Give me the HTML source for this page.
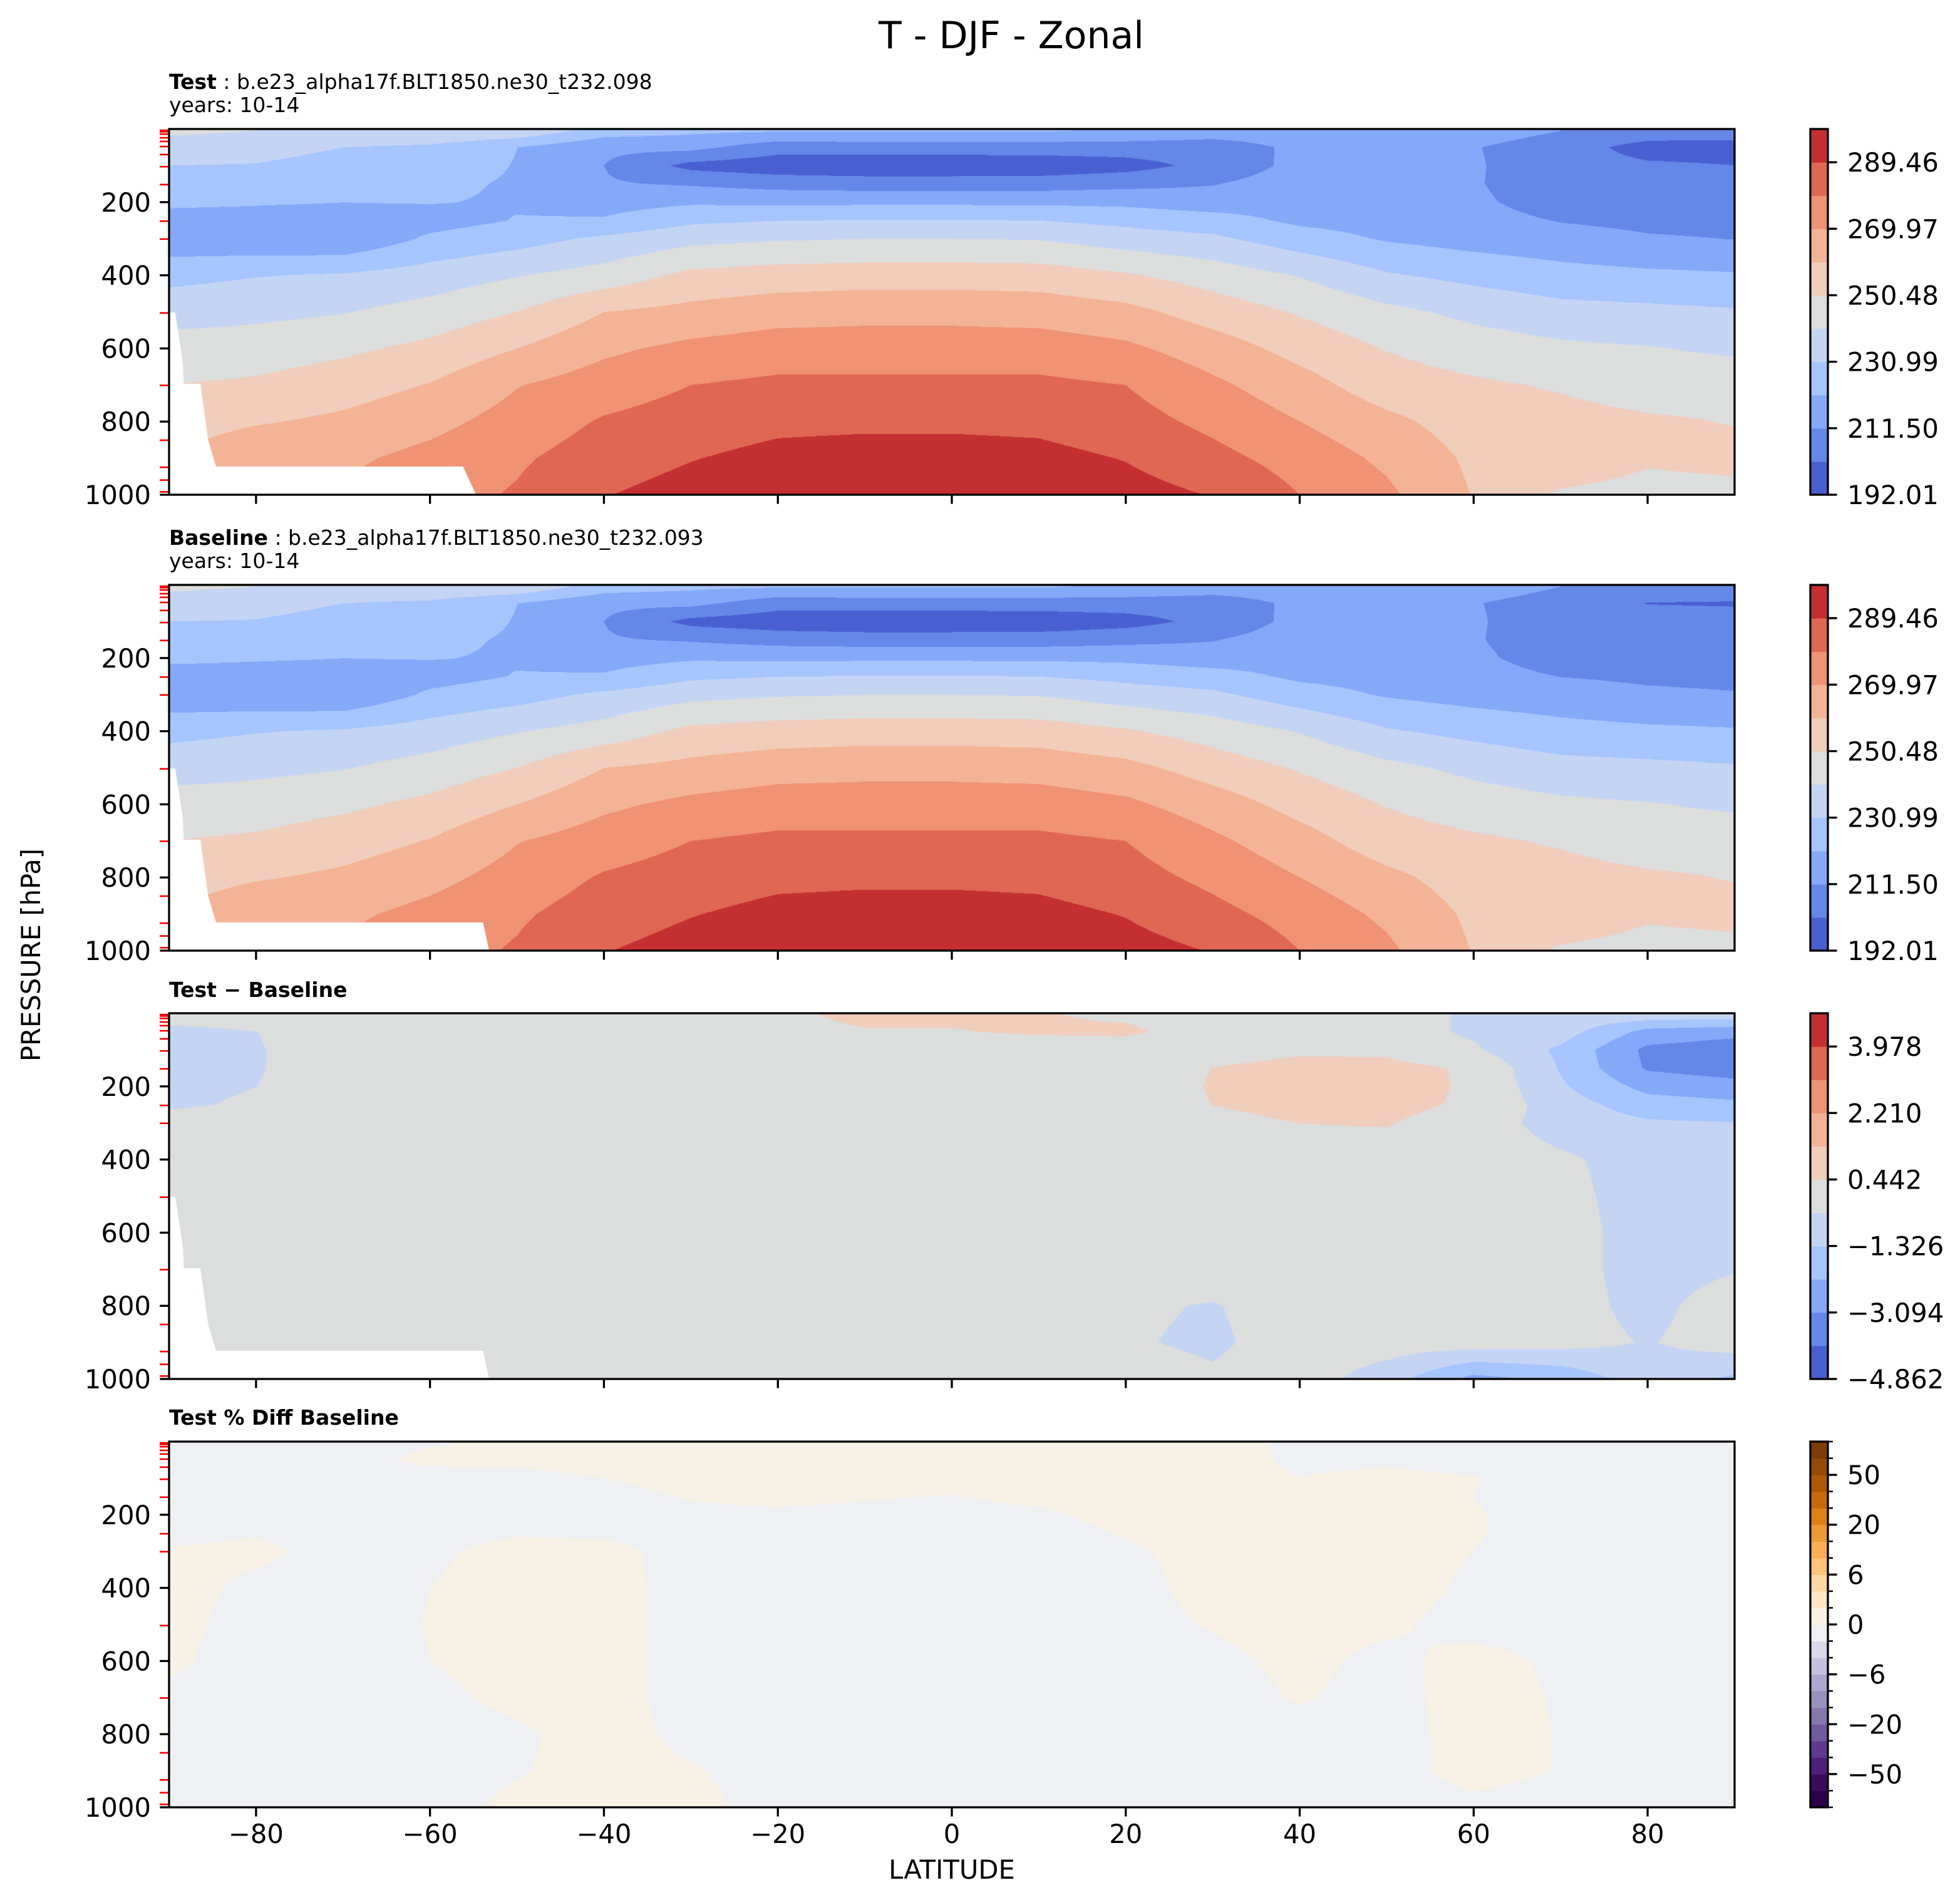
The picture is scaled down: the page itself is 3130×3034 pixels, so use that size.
<!DOCTYPE html>
<html>
<head>
<meta charset="utf-8">
<title>T - DJF - Zonal</title>
<style>
  html,body{margin:0;padding:0;background:#fff;}
  #fig{position:relative;width:3130px;height:3034px;background:#fff;overflow:hidden;font-family:"DejaVu Sans","Liberation Sans",sans-serif;}
  canvas{position:absolute;}
  svg{position:absolute;left:0;top:0;}
  svg text{font-family:"DejaVu Sans","Liberation Sans",sans-serif;fill:#000;}
</style>
</head>
<body>
<div id="fig">
  <canvas id="cv0" style="left:270px;top:206px;width:2500px;height:584px"></canvas>
  <canvas id="cv1" style="left:270px;top:934px;width:2500px;height:584px"></canvas>
  <canvas id="cv2" style="left:270px;top:1618px;width:2500px;height:584px"></canvas>
  <canvas id="cv3" style="left:270px;top:2302px;width:2500px;height:584px"></canvas>
  <svg id="ov" width="3130" height="3034" viewBox="0 0 3130 3034">
    <text x="1615" y="77" font-size="60" text-anchor="middle">T - DJF - Zonal</text>
    <text x="270" y="142" font-size="33"><tspan font-weight="bold">Test</tspan> : b.e23_alpha17f.BLT1850.ne30_t232.098</text>
    <text x="270" y="179" font-size="33">years: 10-14</text>
    <text x="270" y="870" font-size="33"><tspan font-weight="bold">Baseline</tspan> : b.e23_alpha17f.BLT1850.ne30_t232.093</text>
    <text x="270" y="907" font-size="33">years: 10-14</text>
    <text x="270" y="1592" font-size="33" font-weight="bold">Test − Baseline</text>
    <text x="270" y="2275" font-size="33" font-weight="bold">Test % Diff Baseline</text>
    <text transform="translate(64,1525) rotate(-90)" font-size="41.7" text-anchor="middle">PRESSURE [hPa]</text>
    <text x="1520" y="3000" font-size="41.7" text-anchor="middle">LATITUDE</text>
    <g id="axes"></g>
  </svg>
</div>
<script>
// ---------------- data ----------------
const LATS = [-90,-80,-70,-60,-50,-40,-30,-20,-10,0,10,20,30,40,50,60,70,80,90];
const PRES = [5,50,100,150,200,250,300,400,500,600,700,800,900,1000];

// Temperature [K], one row per latitude (LATS), columns = PRES
const T_TEST = [
 [242.7,235.9,231.0,226.1,223.2,217.4,214.4,228.1,236.8,244.6,250.5,255.4,260.2,263.1],
 [240.7,234.9,230.5,226.1,222.2,217.4,213.5,230.5,238.3,245.6,252.0,259.3,268.0,271.9],
 [240.7,231.0,227.1,224.2,221.3,217.4,212.5,232.0,240.2,248.5,255.8,262.2,268.0,271.9],
 [240.7,229.0,226.1,223.2,221.7,217.4,223.0,235.4,244.6,252.9,260.7,267.0,272.9,275.8],
 [238.8,221.3,220.8,220.3,220.3,221.7,227.1,240.2,250.5,260.2,269.5,273.9,278.3,280.7],
 [226.1,213.5,211.5,212.5,217.4,222.2,232.9,244.6,260.2,268.0,274.8,280.7,284.6,289.0],
 [223.2,214.4,198.8,210.5,219.8,229.0,237.8,252.9,263.1,272.4,279.7,284.1,289.0,293.4],
 [222.0,205.7,195.9,207.6,219.3,230.8,239.8,254.9,266.1,274.8,281.7,287.0,292.4,295.3],
 [222.0,206.6,194.9,206.6,219.3,231.5,240.7,255.8,267.0,274.8,281.7,287.5,293.4,296.3],
 [222.0,206.6,194.9,206.6,219.3,231.5,240.7,255.8,267.0,274.8,281.7,287.5,293.4,296.3],
 [222.0,206.6,195.4,206.6,219.3,231.0,240.2,255.4,266.1,274.8,281.7,287.0,292.4,295.3],
 [220.0,206.6,197.9,208.6,218.8,228.1,235.9,251.5,263.1,271.9,279.7,283.6,289.0,293.4],
 [216.4,206.6,204.7,211.0,216.4,225.1,232.9,246.1,255.8,265.1,271.9,277.3,282.6,289.0],
 [216.4,213.5,214.4,216.4,218.3,219.3,225.6,240.2,249.5,256.8,264.1,270.0,275.8,279.7],
 [216.4,212.5,213.5,214.4,215.4,217.4,220.3,232.0,243.2,250.0,254.9,262.7,268.0,271.9],
 [216.4,212.0,212.5,212.5,213.5,215.4,217.4,228.1,238.3,245.6,252.0,255.4,258.3,259.7],
 [211.5,206.6,205.7,204.7,206.6,211.0,215.4,224.7,234.4,242.7,249.5,253.9,257.8,249.0],
 [207.6,197.9,203.2,205.7,206.6,209.1,212.5,223.2,233.4,241.2,245.6,252.0,252.0,246.6],
 [206.6,197.9,201.8,204.7,206.1,208.6,211.3,222.2,232.0,239.3,245.6,250.0,253.4,247.6]
];
const T_BASE = [
 [242.7,235.9,231.0,226.1,223.2,217.4,214.4,228.1,236.8,244.6,250.5,255.4,260.2,263.1],
 [240.7,234.9,230.5,226.1,222.2,217.4,213.5,230.5,238.3,245.6,252.0,259.3,268.0,271.9],
 [240.7,231.0,227.1,224.2,221.3,217.4,212.5,232.0,240.2,248.5,255.8,262.2,268.0,271.9],
 [240.7,229.0,226.1,223.2,221.7,217.4,223.0,235.4,244.6,252.9,260.7,267.0,272.9,275.8],
 [238.8,221.3,220.8,220.3,220.3,221.7,227.1,240.2,250.5,260.2,269.5,273.9,278.3,280.7],
 [226.1,213.5,211.5,212.5,217.4,222.2,232.9,244.6,260.2,268.0,274.8,280.7,284.6,289.0],
 [223.2,214.4,198.8,210.5,219.8,229.0,237.8,252.9,263.1,272.4,279.7,284.1,289.0,293.4],
 [222.0,205.7,195.9,207.6,219.3,230.8,239.8,254.9,266.1,274.8,281.7,287.0,292.4,295.3],
 [222.0,206.6,194.9,206.6,219.3,231.5,240.7,255.8,267.0,274.8,281.7,287.5,293.4,296.3],
 [222.0,206.6,194.9,206.6,219.3,231.5,240.7,255.8,267.0,274.8,281.7,287.5,293.4,296.3],
 [222.0,206.6,195.4,206.6,219.3,231.0,240.2,255.4,266.1,274.8,281.7,287.0,292.4,295.3],
 [220.0,206.6,197.9,208.6,218.8,228.1,235.9,251.5,263.1,271.9,279.7,283.6,289.0,293.4],
 [216.4,206.6,204.7,211.0,216.4,225.1,232.9,246.1,255.8,265.1,271.9,277.3,282.6,289.0],
 [216.4,213.5,214.4,216.4,218.3,219.3,225.6,240.2,249.5,256.8,264.1,270.0,275.8,279.7],
 [216.4,212.5,213.5,214.4,215.4,217.4,220.3,232.0,243.2,250.0,254.9,262.7,268.0,271.9],
 [216.4,212.0,212.5,212.5,213.5,215.4,217.4,228.1,238.3,245.6,252.0,255.4,258.3,259.7],
 [211.5,207.5,206.5,205.2,207.0,211.3,215.6,224.7,234.4,242.7,249.5,253.9,257.8,249.0],
 [208.0,201.5,205.5,206.8,207.5,210.0,213.0,223.2,233.4,241.2,245.6,252.0,252.0,246.6],
 [207.5,201.0,205.0,206.5,207.5,209.5,212.0,222.2,232.0,239.3,245.6,250.0,253.4,247.6]
];
// Test - Baseline [K]
const T_DIFF = [
 [0,-0.7,-0.7,-0.7,-0.7,-0.6,0,0,0,0,0,0,0,0],
 [0,-0.45,-0.5,-0.5,-0.45,-0.3,0,0,0,0,0,0,0,0],
 [0,0,0,0,0,0,0,0,0,0,0,0,0,0],
 [0,0,0,0,0,0,0,0,0,0,0,0,0,0],
 [0,0,0,0,0,0,0,0,0,0,0,0,0,0],
 [0,0,0,0,0,0,0,0,0,0,0,0,0,0],
 [0,0,0,0,0,0,0,0,0,0,0,0,0,0],
 [0.3,0.2,0,0,0,0,0,0,0,0,0,0,0,0],
 [0.6,0.4,0,0,0,0,0,0,0,0,0,0,0,0],
 [0.6,0.4,0,0,0,0,0,0,0,0,0,0,0,0],
 [0.5,0.55,0,0,0,0,0,0,0,0,0,0,0,0],
 [0.3,0.6,0,0,0,0,0,0,0,0,0,-0.3,-0.35,0],
 [0,0,0.1,0.45,0.5,0.45,0.2,0,0,0,0,-0.5,-0.6,-0.3],
 [0,0,0.3,0.7,0.75,0.7,0.45,0,0,0,0,0,0,0],
 [0,0,0.3,0.65,0.7,0.7,0.5,0,0,0,0,0,0,-0.9],
 [-0.6,-0.6,-0.3,0.35,0.35,0.3,0,0,0,0,0,0,0,-2.5],
 [-0.7,-0.9,-1.5,-1.4,-1.2,-0.9,-0.8,-0.3,-0.2,-0.1,-0.1,-0.1,-0.1,-2.0],
 [-0.8,-2.5,-3.3,-3.2,-2.5,-1.8,-1.2,-0.8,-0.8,-0.8,-0.8,-0.7,-0.5,-0.8],
 [-0.8,-2.8,-3.6,-3.5,-2.8,-2.0,-1.3,-0.9,-0.8,-0.6,-0.5,0,0,-1.5]
];
// Test % Diff Baseline [%]
const T_PCT = [
 [-0.5,-0.5,-0.5,-0.5,-0.5,-0.3,0.1,0.5,0.4,0.2,-0.2,-0.5,-0.5,-0.5],
 [-0.5,-0.5,-0.5,-0.5,-0.5,-0.1,0.3,-0.3,-0.5,-0.5,-0.5,-0.5,-0.5,-0.5],
 [-0.5,-0.5,-0.5,-0.5,-0.5,-0.5,-0.5,-0.5,-0.5,-0.5,-0.5,-0.5,-0.5,-0.5],
 [-0.1,0.3,-0.5,-0.5,-0.5,-0.5,-0.2,0.0,0.05,0.0,-0.3,-0.5,-0.5,-0.5],
 [0.2,0.3,-0.4,-0.5,-0.5,-0.1,0.4,0.5,0.5,0.5,0.3,-0.2,-0.1,0.3],
 [0.5,0.5,0.0,-0.4,-0.5,-0.2,0.4,0.5,0.5,0.5,0.5,0.5,0.5,0.5],
 [0.5,0.5,0.4,0.1,-0.3,-0.5,-0.5,-0.5,-0.5,-0.5,-0.5,-0.3,0.1,0.4],
 [0.5,0.5,0.5,0.3,-0.2,-0.5,-0.5,-0.5,-0.5,-0.5,-0.5,-0.5,-0.5,-0.5],
 [0.5,0.5,0.5,0.1,-0.3,-0.5,-0.5,-0.5,-0.5,-0.5,-0.5,-0.5,-0.5,-0.5],
 [0.5,0.5,0.5,-0.05,-0.4,-0.5,-0.5,-0.5,-0.5,-0.5,-0.5,-0.5,-0.5,-0.5],
 [0.5,0.5,0.5,0.3,-0.2,-0.5,-0.5,-0.5,-0.5,-0.5,-0.5,-0.5,-0.5,-0.5],
 [0.5,0.5,0.5,0.5,0.4,0.1,-0.2,-0.5,-0.5,-0.5,-0.5,-0.5,-0.5,-0.5],
 [0.5,0.5,0.5,0.5,0.5,0.5,0.5,0.5,0.1,-0.3,-0.5,-0.5,-0.5,-0.5],
 [-0.3,-0.2,0.0,0.5,0.5,0.5,0.5,0.5,0.5,0.3,0.1,-0.4,-0.5,-0.5],
 [-0.5,-0.2,0.3,0.5,0.5,0.5,0.5,0.5,0.2,-0.3,-0.4,-0.5,-0.4,-0.5],
 [-0.5,-0.4,0.05,0.0,0.1,0.1,0.0,-0.2,-0.4,0.4,0.5,0.5,0.4,-0.3],
 [-0.5,-0.5,-0.5,-0.5,-0.5,-0.5,-0.5,-0.5,-0.5,-0.2,-0.1,-0.05,-0.05,-0.5],
 [-0.5,-0.5,-0.5,-0.5,-0.5,-0.5,-0.5,-0.5,-0.5,-0.5,-0.5,-0.5,-0.5,-0.5],
 [-0.5,-0.5,-0.5,-0.5,-0.5,-0.5,-0.5,-0.5,-0.5,-0.5,-0.5,-0.5,-0.5,-0.5]
];

const T_LEVELS = [192.01,201.755,211.50,221.245,230.99,240.735,250.48,260.225,269.97,279.715,289.46,299.205];
const DIFF_LEVELS = [-4.862,-3.978,-3.094,-2.210,-1.326,-0.442,0.442,1.326,2.210,3.094,3.978,4.862];
const PCT_LEVELS = [-100,-75,-50,-40,-30,-20,-15,-10,-6,-4,-2,0,2,4,6,10,15,20,30,40,50,75,100];

const T_TICKS = [192.01,211.50,230.99,250.48,269.97,289.46];
const T_TICK_LABELS = ["192.01","211.50","230.99","250.48","269.97","289.46"];
const DIFF_TICKS = [-4.862,-3.094,-1.326,0.442,2.210,3.978];
const DIFF_TICK_LABELS = ["\u22124.862","\u22123.094","\u22121.326","0.442","2.210","3.978"];
const PCT_TICKS = [-50,-20,-6,0,6,20,50];
const PCT_TICK_LABELS = ["\u221250","\u221220","\u22126","0","6","20","50"];

const LAT_TICKS = [-80,-60,-40,-20,0,20,40,60,80];
const LAT_TICK_LABELS = ["\u221280","\u221260","\u221240","\u221220","0","20","40","60","80"];
const P_TICKS = [200,400,600,800,1000];
const MODEL_LEVELS = [3.6,7.6,14,24,34,48,70,103,152,200,252,301,400,503,600,701,800,851,925,960,992];

// surface topography mask (lat, pressure) points; below the curve is blank
const TOPO_TEST_LAT = [-90,-89.3,-88.4,-88.3,-86.4,-85.5,-84.6,-56.2,-54.7];
const TOPO_TEST_P   = [502,502,640,697,697,851,923,923,1000];
const TOPO_BASE_LAT = [-90,-89.3,-88.4,-88.3,-86.4,-85.5,-84.6,-53.9,-53.2];
const TOPO_BASE_P   = [502,502,640,697,697,851,923,923,1000];

const COOLWARM = ['#4a5fd1','#6587e8','#86a8f9','#a6c4fd','#c4d5f3','#dcdddd','#f1cdbb','#f4b396','#f09274','#e06753','#c42f32'];
const PUOR = ['#2d004b','#3b0c5c','#4e1f7c','#5e3990','#715a9e','#8677ad','#9890bd','#ada7cf','#c5c1de','#d9d8e8','#eef0f3','#f8f1e6','#fde5c6','#fed6a1','#fdc27b','#f8ad56','#ee9836','#df8017','#c8690d','#b05808','#944a09','#7f3b08'];

// ---------------- geometry ----------------
const X0 = 270, PW = 2500, PH = 584;
const PANEL_TOPS = [206, 934, 1618, 2302];
const CB_X = 2891, CB_W = 28;

function xOf(lat){ return X0 + (lat + 90) / 180 * PW; }
function yOf(p, top){ return top + p / 1000 * PH; }
function latOfPx(px){ return -90 + px / PW * 180; }
function pOfPx(py){ return py / PH * 1000; }

function hexToRgb(h){ return [parseInt(h.substr(1,2),16), parseInt(h.substr(3,2),16), parseInt(h.substr(5,2),16)]; }

function findIdx(arr, v){
  let i = 0;
  while (i < arr.length - 2 && arr[i+1] < v) i++;
  return i;
}

function renderField(canvas, grid, levels, colors, topoLat, topoP){
  canvas.width = PW; canvas.height = PH;
  const ctx = canvas.getContext('2d');
  const img = ctx.createImageData(PW, PH);
  const rgb = colors.map(hexToRgb);
  const nL = levels.length;
  const li = new Int32Array(PW), ls = new Float32Array(PW);
  for (let px = 0; px < PW; px++){
    const lat = latOfPx(px + 0.5);
    const i = findIdx(LATS, lat);
    let s = (lat - LATS[i]) / (LATS[i+1] - LATS[i]);
    s = Math.max(0, Math.min(1, s));
    li[px] = i; ls[px] = s;
  }
  for (let py = 0; py < PH; py++){
    const p = pOfPx(py + 0.5);
    const j = findIdx(PRES, p);
    let t = (p - PRES[j]) / (PRES[j+1] - PRES[j]);
    t = Math.max(0, Math.min(1, t));
    for (let px = 0; px < PW; px++){
      const i = li[px], s = ls[px];
      const a = grid[i][j]*(1-t) + grid[i][j+1]*t;
      const b = grid[i+1][j]*(1-t) + grid[i+1][j+1]*t;
      const v = a*(1-s) + b*s;
      let k = 0;
      while (k < nL - 2 && v >= levels[k+1]) k++;
      const c = rgb[k];
      const o = (py*PW + px)*4;
      img.data[o] = c[0]; img.data[o+1] = c[1]; img.data[o+2] = c[2]; img.data[o+3] = 255;
    }
  }
  ctx.putImageData(img, 0, 0);
  if (topoLat){
    ctx.fillStyle = '#ffffff';
    ctx.beginPath();
    ctx.moveTo(xOf(topoLat[0]) - X0, PH);
    for (let q = 0; q < topoLat.length; q++){
      ctx.lineTo(xOf(topoLat[q]) - X0, yOf(topoP[q], 0));
    }
    ctx.lineTo(xOf(topoLat[topoLat.length-1]) - X0, PH);
    ctx.closePath();
    ctx.fill();
  }
}

renderField(document.getElementById('cv0'), T_TEST, T_LEVELS, COOLWARM, TOPO_TEST_LAT, TOPO_TEST_P);
renderField(document.getElementById('cv1'), T_BASE, T_LEVELS, COOLWARM, TOPO_BASE_LAT, TOPO_BASE_P);
renderField(document.getElementById('cv2'), T_DIFF, DIFF_LEVELS, COOLWARM, TOPO_BASE_LAT, TOPO_BASE_P);
renderField(document.getElementById('cv3'), T_PCT, PCT_LEVELS, PUOR, null, null);

// ---------------- axes overlay ----------------
const NS = 'http://www.w3.org/2000/svg';
const axes = document.getElementById('axes');
function el(tag, parent){ const e = document.createElementNS(NS, tag); parent.appendChild(e); return e; }

function levelFrac(levels, v){
  const k = findIdx(levels, v);
  return (k + (v - levels[k]) / (levels[k+1] - levels[k])) / (levels.length - 1);
}

const PANEL_NAMES = ['test','baseline','difference','percent'];
const CB_LEVELS = [T_LEVELS, T_LEVELS, DIFF_LEVELS, PCT_LEVELS];
const CB_COLORS = [COOLWARM, COOLWARM, COOLWARM, PUOR];
const CB_TICKS = [T_TICKS, T_TICKS, DIFF_TICKS, PCT_TICKS];
const CB_LABELS = [T_TICK_LABELS, T_TICK_LABELS, DIFF_TICK_LABELS, PCT_TICK_LABELS];

PANEL_TOPS.forEach(function(top, n){
  const g = el('g', axes);
  
  
  const bottom = top + PH;

  MODEL_LEVELS.forEach(function(p){
    const l = el('line', g);
    
    
    const y = yOf(p, top);
    l.setAttribute('x1', X0 - 15); l.setAttribute('x2', X0);
    l.setAttribute('y1', y); l.setAttribute('y2', y);
    l.setAttribute('stroke', '#ff0000'); l.setAttribute('stroke-width', '2.6');
  });

  P_TICKS.forEach(function(p){
    const y = yOf(p, top);
    const l = el('line', g);
    
    
    l.setAttribute('x1', X0 - 14.6); l.setAttribute('x2', X0);
    l.setAttribute('y1', y); l.setAttribute('y2', y);
    l.setAttribute('stroke', '#000'); l.setAttribute('stroke-width', '3.3');
    const t = el('text', g);
    
    
    t.setAttribute('x', X0 - 29); t.setAttribute('y', y + 15);
    t.setAttribute('font-size', '41.7'); t.setAttribute('text-anchor', 'end');
    t.textContent = String(p);
  });

  LAT_TICKS.forEach(function(lat, q){
    const x = xOf(lat);
    const l = el('line', g);
    
    
    l.setAttribute('x1', x); l.setAttribute('x2', x);
    l.setAttribute('y1', bottom); l.setAttribute('y2', bottom + 14.6);
    l.setAttribute('stroke', '#000'); l.setAttribute('stroke-width', '3.3');
    if (n === 3){
      const t = el('text', g);
      
      
      t.setAttribute('x', x); t.setAttribute('y', 2943);
      t.setAttribute('font-size', '41.7'); t.setAttribute('text-anchor', 'middle');
      t.textContent = LAT_TICK_LABELS[q];
    }
  });

  const fr = el('rect', g);
  
  
  fr.setAttribute('x', X0); fr.setAttribute('y', top);
  fr.setAttribute('width', PW); fr.setAttribute('height', PH);
  fr.setAttribute('fill', 'none'); fr.setAttribute('stroke', '#000'); fr.setAttribute('stroke-width', '3.3');

  const cb = el('g', axes);
  
  
  const levels = CB_LEVELS[n], colors = CB_COLORS[n];
  const nb = levels.length - 1, bh = PH / nb;
  for (let k = 0; k < nb; k++){
    const r = el('rect', cb);
    
    
    r.setAttribute('x', CB_X); r.setAttribute('y', top + PH - (k+1)*bh);
    r.setAttribute('width', CB_W); r.setAttribute('height', bh + 0.6);
    r.setAttribute('fill', colors[k]);
  }
  if (n === 3){
    levels.forEach(function(v){
      const y = top + PH - levelFrac(levels, v) * PH;
      const l = el('line', cb);
      
      
      l.setAttribute('x1', CB_X + CB_W); l.setAttribute('x2', CB_X + CB_W + 8);
      l.setAttribute('y1', y); l.setAttribute('y2', y);
      l.setAttribute('stroke', '#000'); l.setAttribute('stroke-width', '2.5');
    });
  }
  CB_TICKS[n].forEach(function(v, q){
    const y = top + PH - levelFrac(levels, v) * PH;
    const l = el('line', cb);
    
    
    l.setAttribute('x1', CB_X + CB_W); l.setAttribute('x2', CB_X + CB_W + 14.6);
    l.setAttribute('y1', y); l.setAttribute('y2', y);
    l.setAttribute('stroke', '#000'); l.setAttribute('stroke-width', '3.3');
    const t = el('text', cb);
    
    
    t.setAttribute('x', 2950); t.setAttribute('y', y + 15);
    t.setAttribute('font-size', '41.7');
    t.textContent = CB_LABELS[n][q];
  });
  const cbf = el('rect', cb);
  
  
  cbf.setAttribute('x', CB_X); cbf.setAttribute('y', top);
  cbf.setAttribute('width', CB_W); cbf.setAttribute('height', PH);
  cbf.setAttribute('fill', 'none'); cbf.setAttribute('stroke', '#000'); cbf.setAttribute('stroke-width', '3.3');
});
</script>
</body>
</html>
